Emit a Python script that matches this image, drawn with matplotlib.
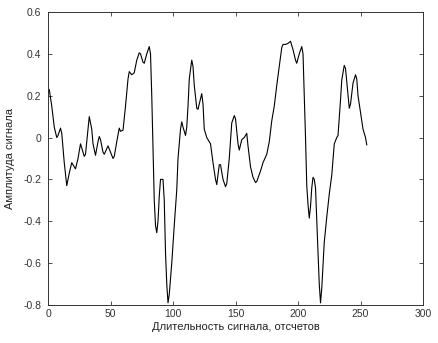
import matplotlib
matplotlib.use("Agg")
import matplotlib.pyplot as plt

# samples
samples = [0, 1, 3, 5, 7, 8, 10, 11, 13, 15, 17, 19, 21, 22, 24, 26, 27, 29, 30, 31,
           33, 35, 36, 38, 40, 41, 42, 44, 45, 48, 50, 52, 53, 55, 57, 58, 60, 62, 64, 65,
           67, 69, 71, 73, 74, 76, 77, 79, 81, 82, 83, 84, 85, 86, 87, 88, 89, 90, 92, 93,
           94, 95, 96, 97, 99, 101, 103, 104, 106, 107, 108, 110, 111, 112, 113, 115, 116, 117, 119, 120,
           121, 123, 124, 125, 127, 130, 132, 134, 135, 137, 138, 140, 142, 143, 145, 147, 149, 150, 152, 153,
           155, 157, 159, 160, 162, 164, 166, 167, 170, 172, 175, 177, 179, 181, 183, 185, 187, 188, 190, 192,
           194, 196, 198, 199, 201, 203, 204, 205, 206, 207, 208, 209, 210, 211, 212, 213, 214, 215, 216, 217,
           218, 219, 221, 223, 225, 227, 229, 231, 232, 234, 235, 237, 238, 240, 241, 242, 244, 246, 247, 248,
           250, 252, 254, 255]
amplitude = [0.22, 0.23, 0.15, 0.05, 0.0, 0.01, 0.045, 0.02, -0.12, -0.23, -0.17, -0.12, -0.14, -0.15, -0.1, -0.03, -0.05, -0.09, -0.08, -0.02,
             0.10, 0.04, -0.03, -0.085, -0.02, 0.005, -0.01, -0.07, -0.08, -0.04, -0.07, -0.1, -0.09, -0.02, 0.045, 0.03, 0.035, 0.15, 0.28, 0.315,
             0.30, 0.31, 0.37, 0.405, 0.40, 0.36, 0.355, 0.40, 0.435, 0.40, 0.20, -0.05, -0.3, -0.42, -0.455, -0.4, -0.28, -0.2, -0.2, -0.3,
             -0.55, -0.7, -0.79, -0.75, -0.6, -0.42, -0.25, -0.1, 0.04, 0.075, 0.05, 0.01, 0.05, 0.15, 0.28, 0.37, 0.34, 0.25, 0.14, 0.135,
             0.16, 0.21, 0.16, 0.04, 0.0, -0.03, -0.12, -0.2, -0.225, -0.13, -0.13, -0.2, -0.235, -0.22, -0.1, 0.07, 0.105, 0.09, -0.03, -0.06,
             -0.01, 0.0, 0.02, -0.04, -0.14, -0.19, -0.215, -0.21, -0.16, -0.12, -0.08, -0.02, 0.08, 0.15, 0.25, 0.34, 0.43, 0.445, 0.445, 0.45,
             0.46, 0.42, 0.37, 0.355, 0.40, 0.435, 0.40, 0.2, 0.0, -0.23, -0.32, -0.385, -0.33, -0.24, -0.19, -0.2, -0.24, -0.4, -0.55, -0.7,
             -0.79, -0.72, -0.5, -0.38, -0.27, -0.18, -0.03, 0.0, 0.01, 0.18, 0.275, 0.345, 0.33, 0.2, 0.14, 0.16, 0.26, 0.30, 0.28, 0.2,
             0.12, 0.04, 0.0, -0.035]

xticks = [0, 50, 100, 150, 200, 250, 300]
yticks = [-0.8, -0.6, -0.4, -0.2, 0, 0.2, 0.4, 0.6]
ytick_labels = ["-0.8", "-0.6", "-0.4", "-0.2", "0", "0.2", "0.4", "0.6"]

plt.rcParams['font.family'] = ['Liberation Sans', 'DejaVu Sans']
plt.rcParams['font.size'] = 8

fig = plt.figure(figsize=(4.38, 3.43), dpi=100)
ax = fig.add_axes([0.1096, 0.111, 0.8562, 0.854])
ax.plot(samples, amplitude, color='black', linewidth=0.8)

ax.set_xlim(0, 300)
ax.set_ylim(-0.8, 0.6)
ax.set_xticks(xticks)
ax.set_yticks(yticks)
ax.set_yticklabels(ytick_labels)
ax.tick_params(direction='in', top=True, right=True, length=3, width=0.6,
               colors='#333333', labelsize=7.5)
ax.tick_params(axis='x', pad=3)
ax.tick_params(axis='y', pad=5)
for s in ax.spines.values():
    s.set_linewidth(0.7)
    s.set_color('#333333')

ax.set_xlabel("Длительность сигнала, отсчетов", fontsize=8, color='#222222', labelpad=2)
ax.set_ylabel("Амплитуда сигнала", fontsize=8, color='#222222', labelpad=6)

fig.savefig("out.png", dpi=100)
